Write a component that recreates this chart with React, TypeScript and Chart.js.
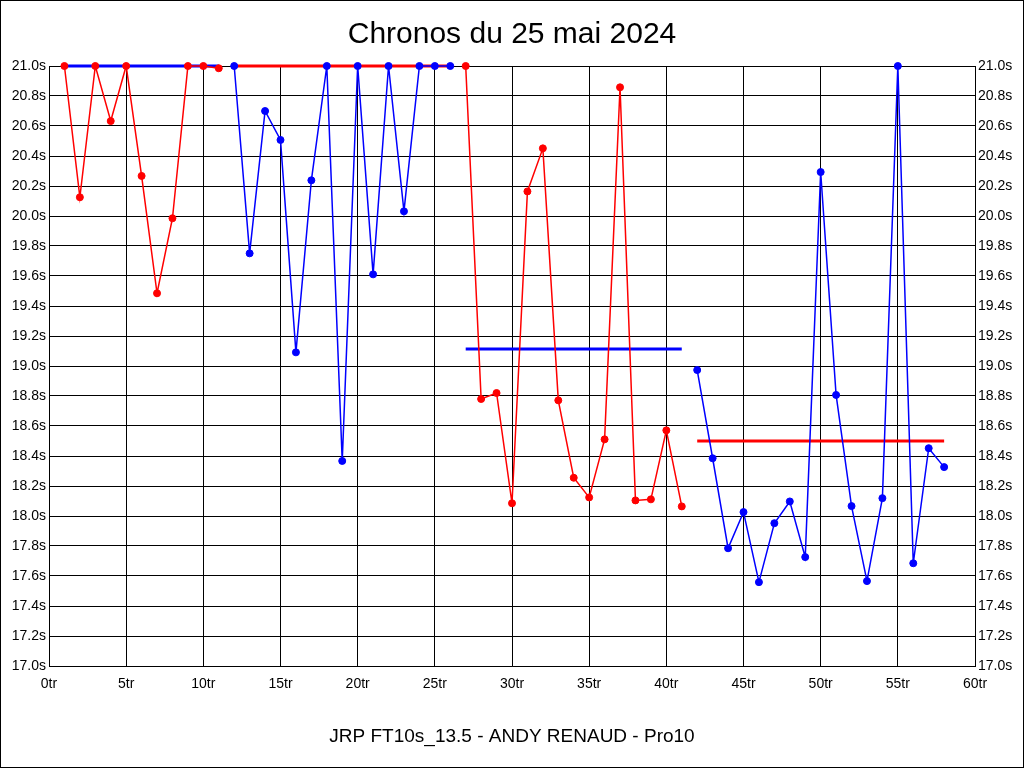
import React, { useEffect, useRef } from "react";
import { Chart, registerables } from "chart.js";

Chart.register(...registerables);

const TITLE = "Chronos du 25 mai 2024";
const SUBTITLE = "JRP FT10s_13.5 - ANDY RENAUD - Pro10";

// Red rider, first stint
const redLapsA = [1, 2, 3, 4, 5, 6, 7, 8, 9, 10, 11];
const redTimesA = [21.0, 20.125, 21.0, 20.633, 21.0, 20.267, 19.485, 19.985, 21.0, 21.0, 20.985];

// Blue rider, first stint
const blueLapsA = [12, 13, 14, 15, 16, 17, 18, 19, 20, 21, 22, 23, 24, 25, 26];
const blueTimesA = [21.0, 19.751, 20.7, 20.507, 19.091, 20.238, 21.0, 18.367, 21.0, 19.611, 21.0, 20.031, 21.0, 21.0, 21.0];

// Red rider, second stint
const redLapsB = [27, 28, 29, 30, 31, 32, 33, 34, 35, 36, 37, 38, 39, 40, 41];
const redTimesB = [21.0, 18.78, 18.82, 18.085, 20.164, 20.451, 18.771, 18.255, 18.124, 18.511, 20.858, 18.104, 18.111, 18.571, 18.064];

// Blue rider, second stint
const blueLapsB = [42, 43, 44, 45, 46, 47, 48, 49, 50, 51, 52, 53, 54, 55, 56, 57, 58];
const blueTimesB = [18.973, 18.385, 17.785, 18.026, 17.559, 17.952, 18.097, 17.726, 20.293, 18.807, 18.066, 17.566, 18.119, 21.0, 17.685, 18.452, 18.326];

// Reference (thick) lines over each stint
const refStart = [1, 12, 27, 42];
const refEnd = [11, 26, 41, 58];
const refValue = [21.0, 21.0, 19.113, 18.5];
const refIsBlue = [true, false, true, false];

const X_MIN = 0;
const X_MAX = 60;
const X_STEP = 5;
const Y_MIN = 17.0;
const Y_MAX = 21.0;
const Y_STEP = 0.2;

const RED = "#ff0000";
const BLUE = "#0000ff";

const toPoints = (xs: number[], ys: number[]) => xs.map((x, i) => ({ x, y: ys[i] }));

export default function App() {
  const ref = useRef<HTMLCanvasElement | null>(null);

  useEffect(() => {
    if (!ref.current) return;
    const series = (xs: number[], ys: number[], color: string) => ({
      data: toPoints(xs, ys),
      borderColor: color,
      backgroundColor: color,
      borderWidth: 1.5,
      pointRadius: 3.5,
      pointBorderWidth: 1,
      pointBackgroundColor: color,
      pointBorderColor: color,
      clip: false as const,
      order: 1,
    });
    const refLines = refStart.map((s, i) => ({
      data: [
        { x: s, y: refValue[i] },
        { x: refEnd[i], y: refValue[i] },
      ],
      borderColor: refIsBlue[i] ? BLUE : RED,
      backgroundColor: refIsBlue[i] ? BLUE : RED,
      borderWidth: 3,
      pointRadius: 0,
      clip: false as const,
      order: 2,
    }));

    const tickFont = { family: "'Liberation Sans', Arial, sans-serif", size: 14 };
    const yTick = (v: any) => Number(v).toFixed(1) + "s";

    const chart = new Chart(ref.current, {
      type: "line",
      data: {
        datasets: [
          ...refLines,
          series(redLapsA, redTimesA, RED),
          series(blueLapsA, blueTimesA, BLUE),
          series(redLapsB, redTimesB, RED),
          series(blueLapsB, blueTimesB, BLUE),
        ] as any,
      },
      options: {
        responsive: false,
        animation: false,
        events: [],
        layout: { padding: 0 },
        plugins: {
          legend: { display: false },
          tooltip: { enabled: false },
          title: {
            display: true,
            text: TITLE,
            color: "#000",
            font: { family: "'Liberation Sans', Arial, sans-serif", size: 30, weight: "normal" },
            padding: { top: 16, bottom: 13 },
          },
          subtitle: {
            display: true,
            position: "bottom",
            text: SUBTITLE,
            color: "#000",
            font: { family: "'Liberation Sans', Arial, sans-serif", size: 19, weight: "normal" },
            padding: { top: 29.6, bottom: 18.6 },
          },
        },
        scales: {
          x: {
            type: "linear",
            min: X_MIN,
            max: X_MAX,
            afterFit: (s: any) => {
              s.height = 30;
            },
            ticks: {
              stepSize: X_STEP,
              color: "#000",
              font: tickFont,
              padding: 10,
              maxRotation: 0,
              autoSkip: false,
              callback: (v: any) => v + "tr",
            },
            grid: { color: "#000", lineWidth: 1, drawTicks: false },
            border: { color: "#000", width: 1 },
          },
          y: {
            type: "linear",
            position: "left",
            min: Y_MIN,
            max: Y_MAX,
            afterFit: (s: any) => {
              s.width = 48;
            },
            ticks: {
              stepSize: Y_STEP,
              color: "#000",
              font: tickFont,
              padding: 3,
              autoSkip: false,
              callback: yTick,
            },
            grid: { color: "#000", lineWidth: 1, drawTicks: false },
            border: { color: "#000", width: 1 },
          },
          y2: {
            type: "linear",
            position: "right",
            min: Y_MIN,
            max: Y_MAX,
            afterFit: (s: any) => {
              s.width = 48;
            },
            ticks: {
              stepSize: Y_STEP,
              color: "#000",
              font: tickFont,
              padding: 3,
              autoSkip: false,
              callback: yTick,
            },
            grid: { display: false, drawTicks: false },
            border: { color: "#000", width: 1 },
          },
        },
      } as any,
    });
    return () => chart.destroy();
  }, []);

  return (
    <div
      style={{
        position: "absolute",
        left: 0,
        top: 0,
        width: 1024,
        height: 768,
        border: "1px solid #000",
        boxSizing: "border-box",
        background: "#fff",
      }}
    >
      <canvas ref={ref} width={1022} height={766} style={{ display: "block", width: 1022, height: 766 }} />
    </div>
  );
}
